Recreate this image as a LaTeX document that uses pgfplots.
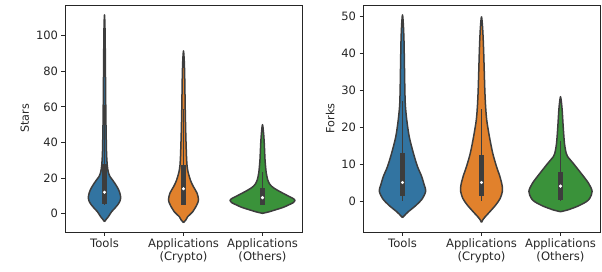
\documentclass[border=0pt]{standalone}
\usepackage{fontspec}
\setmainfont{DejaVu Sans}
\usepackage{pgfplots}
\usepackage{pgfplotstable}
\pgfplotsset{compat=1.18}
\definecolor{cblue}{HTML}{3274A1}
\definecolor{corange}{HTML}{E1812C}
\definecolor{cgreen}{HTML}{3A923A}
\definecolor{edgec}{HTML}{3D3D3D}
\definecolor{txt}{HTML}{262626}

% Stars: violin outlines (value, signed half width)
\pgfplotstableread{
v w
-4.5 0
-3 0.025
-1.7 0.049
1.1 0.09
3 0.13
4.9 0.166
7 0.195
9.2 0.205
11 0.198
13.3 0.18
15 0.16
17.1 0.13
19 0.10
20.8 0.070
23 0.050
25 0.041
28.3 0.033
33.9 0.026
42 0.022
52.6 0.018
65 0.015
80 0.012
95 0.009
105 0.006
111.6 0
105 -0.006
95 -0.009
80 -0.012
65 -0.015
52.6 -0.018
42 -0.022
33.9 -0.026
28.3 -0.033
25 -0.041
23 -0.050
20.8 -0.070
19 -0.10
17.1 -0.13
15 -0.16
13.3 -0.18
11 -0.198
9.2 -0.205
7 -0.195
4.9 -0.166
3 -0.13
1.1 -0.09
-1.7 -0.049
-3 -0.025
-4.5 0
}\stTools
\pgfplotstableread{
v w
-5 0
-3.5 0.03
-1.7 0.053
1.1 0.117
4.9 0.168
7.7 0.19
11.5 0.172
15.2 0.125
18.9 0.087
24.6 0.052
30.2 0.040
41.4 0.031
50 0.026
61 0.021
70 0.018
79.8 0.014
87 0.008
91.4 0
87 -0.008
79.8 -0.014
70 -0.018
61 -0.021
50 -0.026
41.4 -0.031
30.2 -0.040
24.6 -0.052
18.9 -0.087
15.2 -0.125
11.5 -0.172
7.7 -0.19
4.9 -0.168
1.1 -0.117
-1.7 -0.053
-3.5 -0.03
-5 0
}\stCrypto
\pgfplotstableread{
v w
0.2 0
1.0 0.08
2.1 0.16
3.5 0.26
4.9 0.33
6.2 0.39
7.5 0.41
8.6 0.385
9.6 0.34
11 0.28
12.4 0.22
13.8 0.165
15.2 0.12
17 0.085
19 0.066
22.7 0.048
26 0.040
30.2 0.032
36 0.026
41.4 0.020
46 0.012
50 0
46 -0.012
41.4 -0.020
36 -0.026
30.2 -0.032
26 -0.040
22.7 -0.048
19 -0.066
17 -0.085
15.2 -0.12
13.8 -0.165
12.4 -0.22
11 -0.28
9.6 -0.34
8.6 -0.385
7.5 -0.41
6.2 -0.39
4.9 -0.33
3.5 -0.26
2.1 -0.16
1.0 -0.08
0.2 0
}\stOthers
% Forks
\pgfplotstableread{
v w
-4.5 0
-3.6 0.04
-2.9 0.074
-1.1 0.176
0.7 0.254
2.7 0.294
4.3 0.275
6.6 0.243
9.3 0.19
12.9 0.138
17.4 0.085
21.9 0.054
25.9 0.036
30 0.030
34.9 0.026
40 0.022
44 0.018
48 0.010
50.3 0
48 -0.010
44 -0.018
40 -0.022
34.9 -0.026
30 -0.030
25.9 -0.036
21.9 -0.054
17.4 -0.085
12.9 -0.138
9.3 -0.19
6.6 -0.243
4.3 -0.275
2.7 -0.294
0.7 -0.254
-1.1 -0.176
-2.9 -0.074
-3.6 -0.04
-4.5 0
}\fkTools
\pgfplotstableread{
v w
-5.8 0
-5 0.02
-4.4 0.042
-2.9 0.106
-1.1 0.18
0.7 0.237
2.7 0.265
4.3 0.26
6.6 0.233
9.3 0.19
12.9 0.142
17.4 0.10
21.9 0.066
25.9 0.051
30 0.042
34.9 0.035
40 0.028
44 0.021
47.5 0.012
49.8 0
47.5 -0.012
44 -0.021
40 -0.028
34.9 -0.035
30 -0.042
25.9 -0.051
21.9 -0.066
17.4 -0.10
12.9 -0.142
9.3 -0.19
6.6 -0.233
4.3 -0.26
2.7 -0.265
0.7 -0.237
-1.1 -0.18
-2.9 -0.106
-4.4 -0.042
-5 -0.02
-5.8 0
}\fkCrypto
\pgfplotstableread{
v w
-2.9 0
-2.5 0.08
-1.5 0.21
-0.3 0.32
0.7 0.37
2.6 0.40
4.8 0.355
7.5 0.26
10.2 0.16
12.0 0.09
12.9 0.072
15.6 0.050
20.1 0.034
24.6 0.021
27 0.010
28.2 0
27 -0.010
24.6 -0.021
20.1 -0.034
15.6 -0.050
12.9 -0.072
12.0 -0.09
10.2 -0.16
7.5 -0.26
4.8 -0.355
2.6 -0.40
0.7 -0.37
-0.3 -0.32
-1.5 -0.21
-2.5 -0.08
-2.9 0
}\fkOthers

\newcommand{\violin}[3]{%
  \addplot[draw=edgec, fill=#3, line width=1.5pt, smooth, line join=round] table[x expr=#2+\thisrow{w}, y=v]{#1};
}
\newcommand{\inbox}[6]{%
  \addplot[edgec, line width=1.6pt] coordinates {(#1,#2) (#1,#6)};
  \addplot[edgec, line width=5pt] coordinates {(#1,#3) (#1,#5)};
  \addplot[only marks, mark=*, mark size=1.4pt, mark options={draw=white, fill=white}] coordinates {(#1,#4)};
}

\pgfplotsset{vstyle/.style={
  scale only axis, width=237pt, height=227pt,
  xmin=-0.5, xmax=2.5,
  xtick={0,1,2},
  xticklabels={Tools,{Applications\\(Crypto)},{Applications\\(Others)}},
  xticklabel style={align=center, font=\fontsize{11.6}{13}\selectfont, text=txt},
  yticklabel style={font=\fontsize{11.5}{13}\selectfont, text=txt},
  ylabel style={font=\fontsize{11.2}{13}\selectfont, text=txt},
  /pgf/number format/assume math mode=true,
  tick align=outside, tick pos=left, major tick length=3.5pt,
  tick style={color=txt, line width=0.8pt},
  axis line style={color=txt, line width=0.8pt},
}}

\begin{document}
\begin{tikzpicture}
\path[use as bounding box] (0,0) rectangle (602pt,271pt);
\begin{axis}[vstyle, at={(65pt,39pt)}, anchor=south west,
  ymin=-10.3, ymax=117.2, ytick={0,20,...,100}, ylabel={Stars}]
  \violin{\stTools}{0}{cblue}
  \violin{\stCrypto}{1}{corange}
  \violin{\stOthers}{2}{cgreen}
  \inbox{0}{5}{5.5}{12}{28}{61}
  \inbox{1}{5}{5}{14}{27.3}{59}
  \inbox{2}{5}{5}{9}{14.3}{23.5}
\end{axis}
\begin{axis}[vstyle, at={(363pt,39pt)}, anchor=south west,
  ymin=-8.4, ymax=53, ytick={0,10,...,50}, ylabel={Forks}]
  \violin{\fkTools}{0}{cblue}
  \violin{\fkCrypto}{1}{corange}
  \violin{\fkOthers}{2}{cgreen}
  \inbox{0}{0}{1.35}{5}{12.9}{27}
  \inbox{1}{0}{1.35}{5}{12.3}{25}
  \inbox{2}{0}{0.3}{4}{7.75}{16.2}
\end{axis}
\end{tikzpicture}
\end{document}
